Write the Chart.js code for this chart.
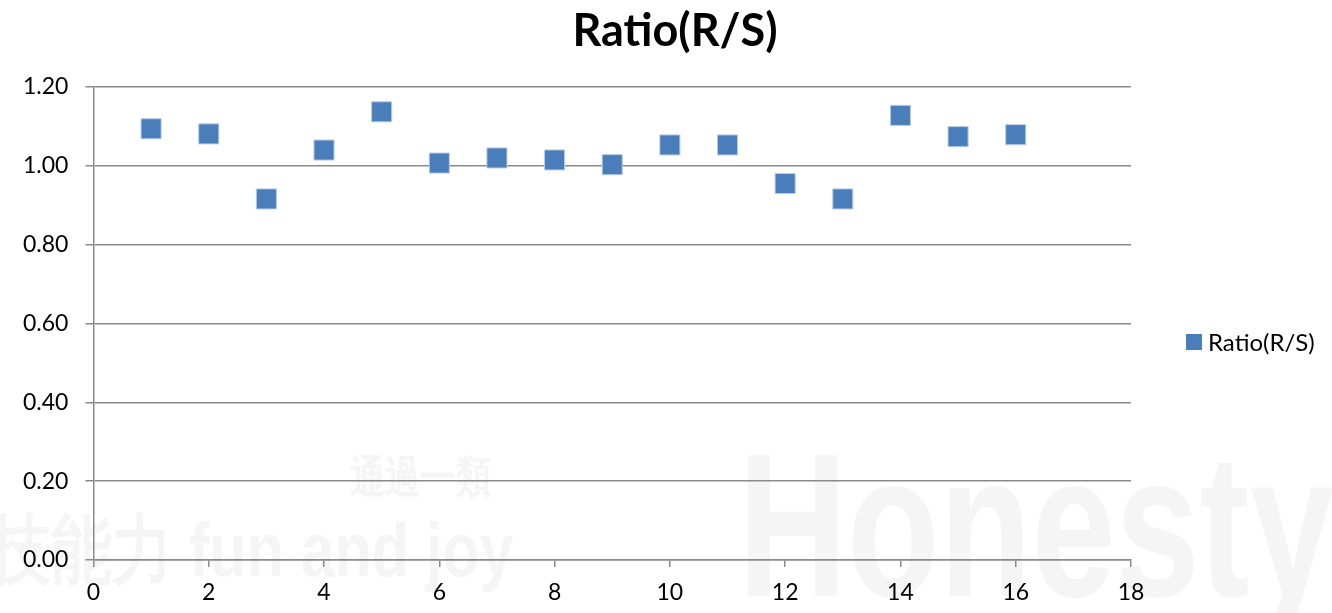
<!DOCTYPE html>
<html>
<head>
<meta charset="utf-8">
<script src="https://cdn.jsdelivr.net/npm/chart.js@4"></script>
<style>
  html, body { margin: 0; padding: 0; background: #fff; }
  #wrap { position: relative; width: 1332px; height: 613px; overflow: hidden; }
  .wm { position: absolute; color: #f5f5f5; font-family: "Liberation Sans", "DejaVu Sans", sans-serif; font-weight: bold; white-space: nowrap; z-index: 0; transform-origin: 0 0; }
  #chart { position: absolute; left: 0; top: 0; z-index: 1; }
  #title { position: absolute; left: 0; width: 1350px; top: 2px; text-align: center; z-index: 2; font-family: Lato, "Open Sans", sans-serif; font-weight: bold; font-size: 45px; line-height: 54px; color: #000; }
  #legend { position: absolute; left: 1186px; top: 327px; z-index: 2; font-family: Lato, "Open Sans", sans-serif; font-size: 24px; color: #000; display: flex; align-items: center; }
  #legend .box { width: 16px; height: 16px; background: #4a7ebb; margin-right: 6px; }
</style>
</head>
<body>
<div id="wrap">
  <div class="wm" style="left:738px; top:408px; font-size:204px; transform:scaleX(0.74);">Honesty</div>
  <div class="wm" style="left:-10px; top:500px; font-size:76px; transform:scaleX(0.8);">技能力 fun and joy</div>
  <div class="wm" style="left:350px; top:448px; font-size:44px; transform:scaleX(0.8);">通過一類</div>
  <canvas id="chart" width="1332" height="613"></canvas>
  <div id="title"></div>
  <div id="legend"><span class="box"></span><span id="legend-text"></span></div>
</div>
<script>
const seriesName = "Ratio(R/S)";
const xValues = [1, 2, 3, 4, 5, 6, 7, 8, 9, 10, 11, 12, 13, 14, 15, 16];
const ratioValues = [1.094, 1.081, 0.916, 1.040, 1.137, 1.007, 1.020, 1.015, 1.003, 1.053, 1.053, 0.955, 0.916, 1.128, 1.074, 1.079];
const xTicks = [0, 2, 4, 6, 8, 10, 12, 14, 16, 18];
const yTicks = [0, 0.2, 0.4, 0.6, 0.8, 1.0, 1.2];

const fontFamily = "Lato, 'Open Sans', sans-serif";
const gridColor = "#8a8a8a";

document.addEventListener("DOMContentLoaded", () => {
  const ctx = document.getElementById("chart").getContext("2d");
  const points = xValues.map((x, i) => ({ x: x, y: ratioValues[i] }));
  document.getElementById("title").textContent = seriesName;
  document.getElementById("legend-text").textContent = seriesName;

  new Chart(ctx, {
    type: "scatter",
    data: {
      datasets: [{
        label: seriesName,
        data: points,
        pointStyle: "rect",
        pointRadius: 14.2,
        pointHoverRadius: 14.2,
        backgroundColor: "#4a7ebb",
        borderColor: "#b9cde5",
        borderWidth: 1
      }]
    },
    options: {
      responsive: false,
      animation: false,
      layout: { padding: { left: 6, right: 201, top: 87, bottom: -5 } },
      plugins: {
        title: { display: false },
        legend: { display: false },
        tooltip: { enabled: false }
      },
      scales: {
        x: {
          type: "linear",
          min: 0,
          max: 18,
          afterBuildTicks: (axis) => { axis.ticks = xTicks.map(v => ({ value: v })); },
          ticks: {
            color: "#000",
            font: { family: fontFamily, size: 23, lineHeight: 1 },
            padding: 14
          },
          grid: {
            drawOnChartArea: false,
            drawTicks: true,
            tickLength: 7,
            color: gridColor,
            lineWidth: 1.5
          },
          border: { color: gridColor, width: 1.5 }
        },
        y: {
          min: 0,
          max: 1.2,
          afterBuildTicks: (axis) => { axis.ticks = yTicks.map(v => ({ value: v })); },
          ticks: {
            color: "#000",
            font: { family: fontFamily, size: 23 },
            padding: 17,
            callback: (v) => Number(v).toFixed(2)
          },
          grid: {
            color: gridColor,
            lineWidth: 1.5,
            tickLength: 8
          },
          border: { color: gridColor, width: 1.5 }
        }
      }
    }
  });
});
</script>
</body>
</html>
